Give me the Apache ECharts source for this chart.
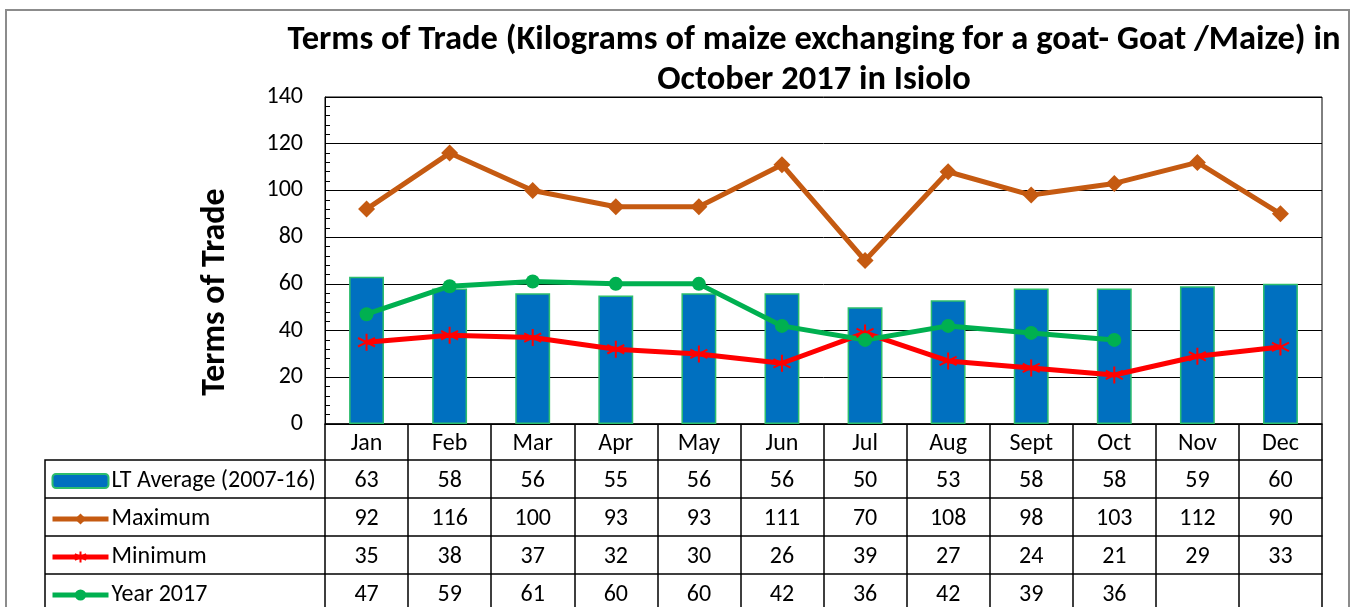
<!DOCTYPE html>
<html lang="en">

<head>
    <meta charset="utf-8">
    <title>terms-of-trade</title>
    <script src="https://cdn.jsdelivr.net/npm/echarts@6/dist/echarts.min.js"></script>
    <style>
        html, body { margin: 0; padding: 0; background: #fff; }
        #container { width: 1360px; height: 607px; }
    </style>
</head>

<body>
<div id="container"></div>
<script>
    const months = ["Jan", "Feb", "Mar", "Apr", "May", "Jun", "Jul", "Aug", "Sept", "Oct", "Nov", "Dec"];
    const ltAverage = [63, 58, 56, 55, 56, 56, 50, 53, 58, 58, 59, 60];
    const maximum = [92, 116, 100, 93, 93, 111, 70, 108, 98, 103, 112, 90];
    const minimum = [35, 38, 37, 32, 30, 26, 39, 27, 24, 21, 29, 33];
    const year2017 = [47, 59, 61, 60, 60, 42, 36, 42, 39, 36, null, null];
    const yTicks = [0, 20, 40, 60, 80, 100, 120, 140];

    const seriesNames = ["LT Average (2007-16)", "Maximum", "Minimum", "Year 2017"];
    const tableRows = [ltAverage, maximum, minimum, year2017];

    const font = "Carlito, Lato, sans-serif";
    const labelSize = 24;
    const headerHeight = 36;
    const rowHeight = 38;

    // asterisk marker like Excel's "*" one
    const starPath = "path://M0,-10L0,10M-8.7,-5L8.7,5M-8.7,5L8.7,-5";

    function rowAxis(row, i) {
        return {
            type: "category",
            position: "bottom",
            offset: headerHeight + i * rowHeight,
            data: months,
            axisLine: { show: true, lineStyle: { color: "#000", width: 1.5 } },
            axisTick: { show: true, interval: 0, length: rowHeight, lineStyle: { color: "#000", width: 1.5 } },
            axisLabel: {
                interval: 0,
                margin: 9,
                fontFamily: font,
                fontSize: labelSize,
                color: "#000",
                formatter: (v, idx) => (row[idx] == null ? "" : String(row[idx]))
            }
        };
    }

    const option = {
        animation: false,
        backgroundColor: "#fff",
        grid: {
            left: 325,
            right: 38,
            top: 97,
            bottom: 183,
            show: true,
            borderColor: "#000",
            borderWidth: 1
        },
        legend: {
            orient: "vertical",
            left: 50,
            top: 469,
            height: 200,
            padding: 0,
            itemWidth: 56,
            itemHeight: 14,
            itemGap: 14,
            selectedMode: false,
            textStyle: { fontFamily: font, fontSize: labelSize, color: "#000", padding: [0, 0, 0, -2] },
            data: [
                { name: seriesNames[0] },
                { name: seriesNames[1], lineStyle: { width: 5 } },
                { name: seriesNames[2], lineStyle: { width: 5 } },
                { name: seriesNames[3], lineStyle: { width: 5 } }
            ]
        },
        xAxis: [
            {
                type: "category",
                position: "bottom",
                data: months,
                axisLine: { show: true, lineStyle: { color: "#000", width: 1.5 } },
                axisTick: { show: true, interval: 0, length: headerHeight, lineStyle: { color: "#000", width: 1.5 } },
                axisLabel: { interval: 0, margin: 8, fontFamily: font, fontSize: labelSize, color: "#000" }
            },
            ...tableRows.map(rowAxis)
        ],
        yAxis: {
            type: "value",
            min: 0,
            max: 140,
            interval: 20,
            axisLine: { show: true, lineStyle: { color: "#000", width: 1 } },
            axisTick: { show: true, inside: true, length: 5, lineStyle: { color: "#000" } },
            minorTick: { show: true, splitNumber: 5, length: 5, lineStyle: { color: "#000" } },
            splitLine: { show: true, lineStyle: { color: "#000", width: 1 } },
            axisLabel: {
                margin: 22,
                fontFamily: font,
                fontSize: labelSize,
                color: "#000",
                formatter: v => (yTicks.indexOf(v) >= 0 ? String(v) : "")
            }
        },
        graphic: [
            {
                type: "rect",
                shape: { x: 6, y: 10, width: 1343, height: 620 },
                style: { fill: null, stroke: "#8c8c8c", lineWidth: 2 },
                silent: true,
                z: -1
            },
            {
                type: "text",
                x: 814,
                y: 60,
                style: {
                    text: "Terms of Trade (Kilograms of maize exchanging for a goat- Goat /Maize) in\nOctober 2017 in Isiolo",
                    fontFamily: font,
                    fontWeight: "bold",
                    fontSize: 34.5,
                    lineHeight: 40,
                    fill: "#000",
                    align: "center",
                    verticalAlign: "middle"
                }
            },
            {
                type: "text",
                x: 215,
                y: 292,
                rotation: Math.PI / 2,
                style: {
                    text: "Terms of Trade",
                    fontFamily: font,
                    fontWeight: "bold",
                    fontSize: 34,
                    fill: "#000",
                    align: "center",
                    verticalAlign: "middle"
                }
            },
            {
                // legend column of the data table
                type: "polyline",
                shape: { points: [[325, 460], [45, 460], [45, 620]] },
                style: { stroke: "#000", lineWidth: 1.5, fill: null },
                silent: true
            },
            {
                type: "line",
                shape: { x1: 45, y1: 498, x2: 325, y2: 498 },
                style: { stroke: "#000", lineWidth: 1.5 },
                silent: true
            },
            {
                type: "line",
                shape: { x1: 45, y1: 536, x2: 325, y2: 536 },
                style: { stroke: "#000", lineWidth: 1.5 },
                silent: true
            },
            {
                type: "line",
                shape: { x1: 45, y1: 574, x2: 325, y2: 574 },
                style: { stroke: "#000", lineWidth: 1.5 },
                silent: true
            }
        ],
        series: [
            {
                name: seriesNames[0],
                type: "bar",
                data: ltAverage,
                barWidth: "42%",
                itemStyle: { color: "#0070C0", borderColor: "#2DBE6C", borderWidth: 1.5 }
            },
            {
                name: seriesNames[1],
                type: "line",
                data: maximum,
                symbol: "diamond",
                symbolSize: 17,
                lineStyle: { color: "#C55A11", width: 5 },
                itemStyle: { color: "#C55A11" }
            },
            {
                name: seriesNames[2],
                type: "line",
                data: minimum,
                symbol: starPath,
                symbolSize: 17,
                lineStyle: { color: "#FF0000", width: 5 },
                itemStyle: { color: "#FF0000", borderColor: "#FF0000", borderWidth: 2 }
            },
            {
                name: seriesNames[3],
                type: "line",
                data: year2017,
                symbol: "circle",
                symbolSize: 14,
                lineStyle: { color: "#00B050", width: 5 },
                itemStyle: { color: "#00B050" }
            }
        ]
    };

    let chart = echarts.init(document.getElementById("container"));
    chart.setOption(option);
</script>
</body>

</html>
